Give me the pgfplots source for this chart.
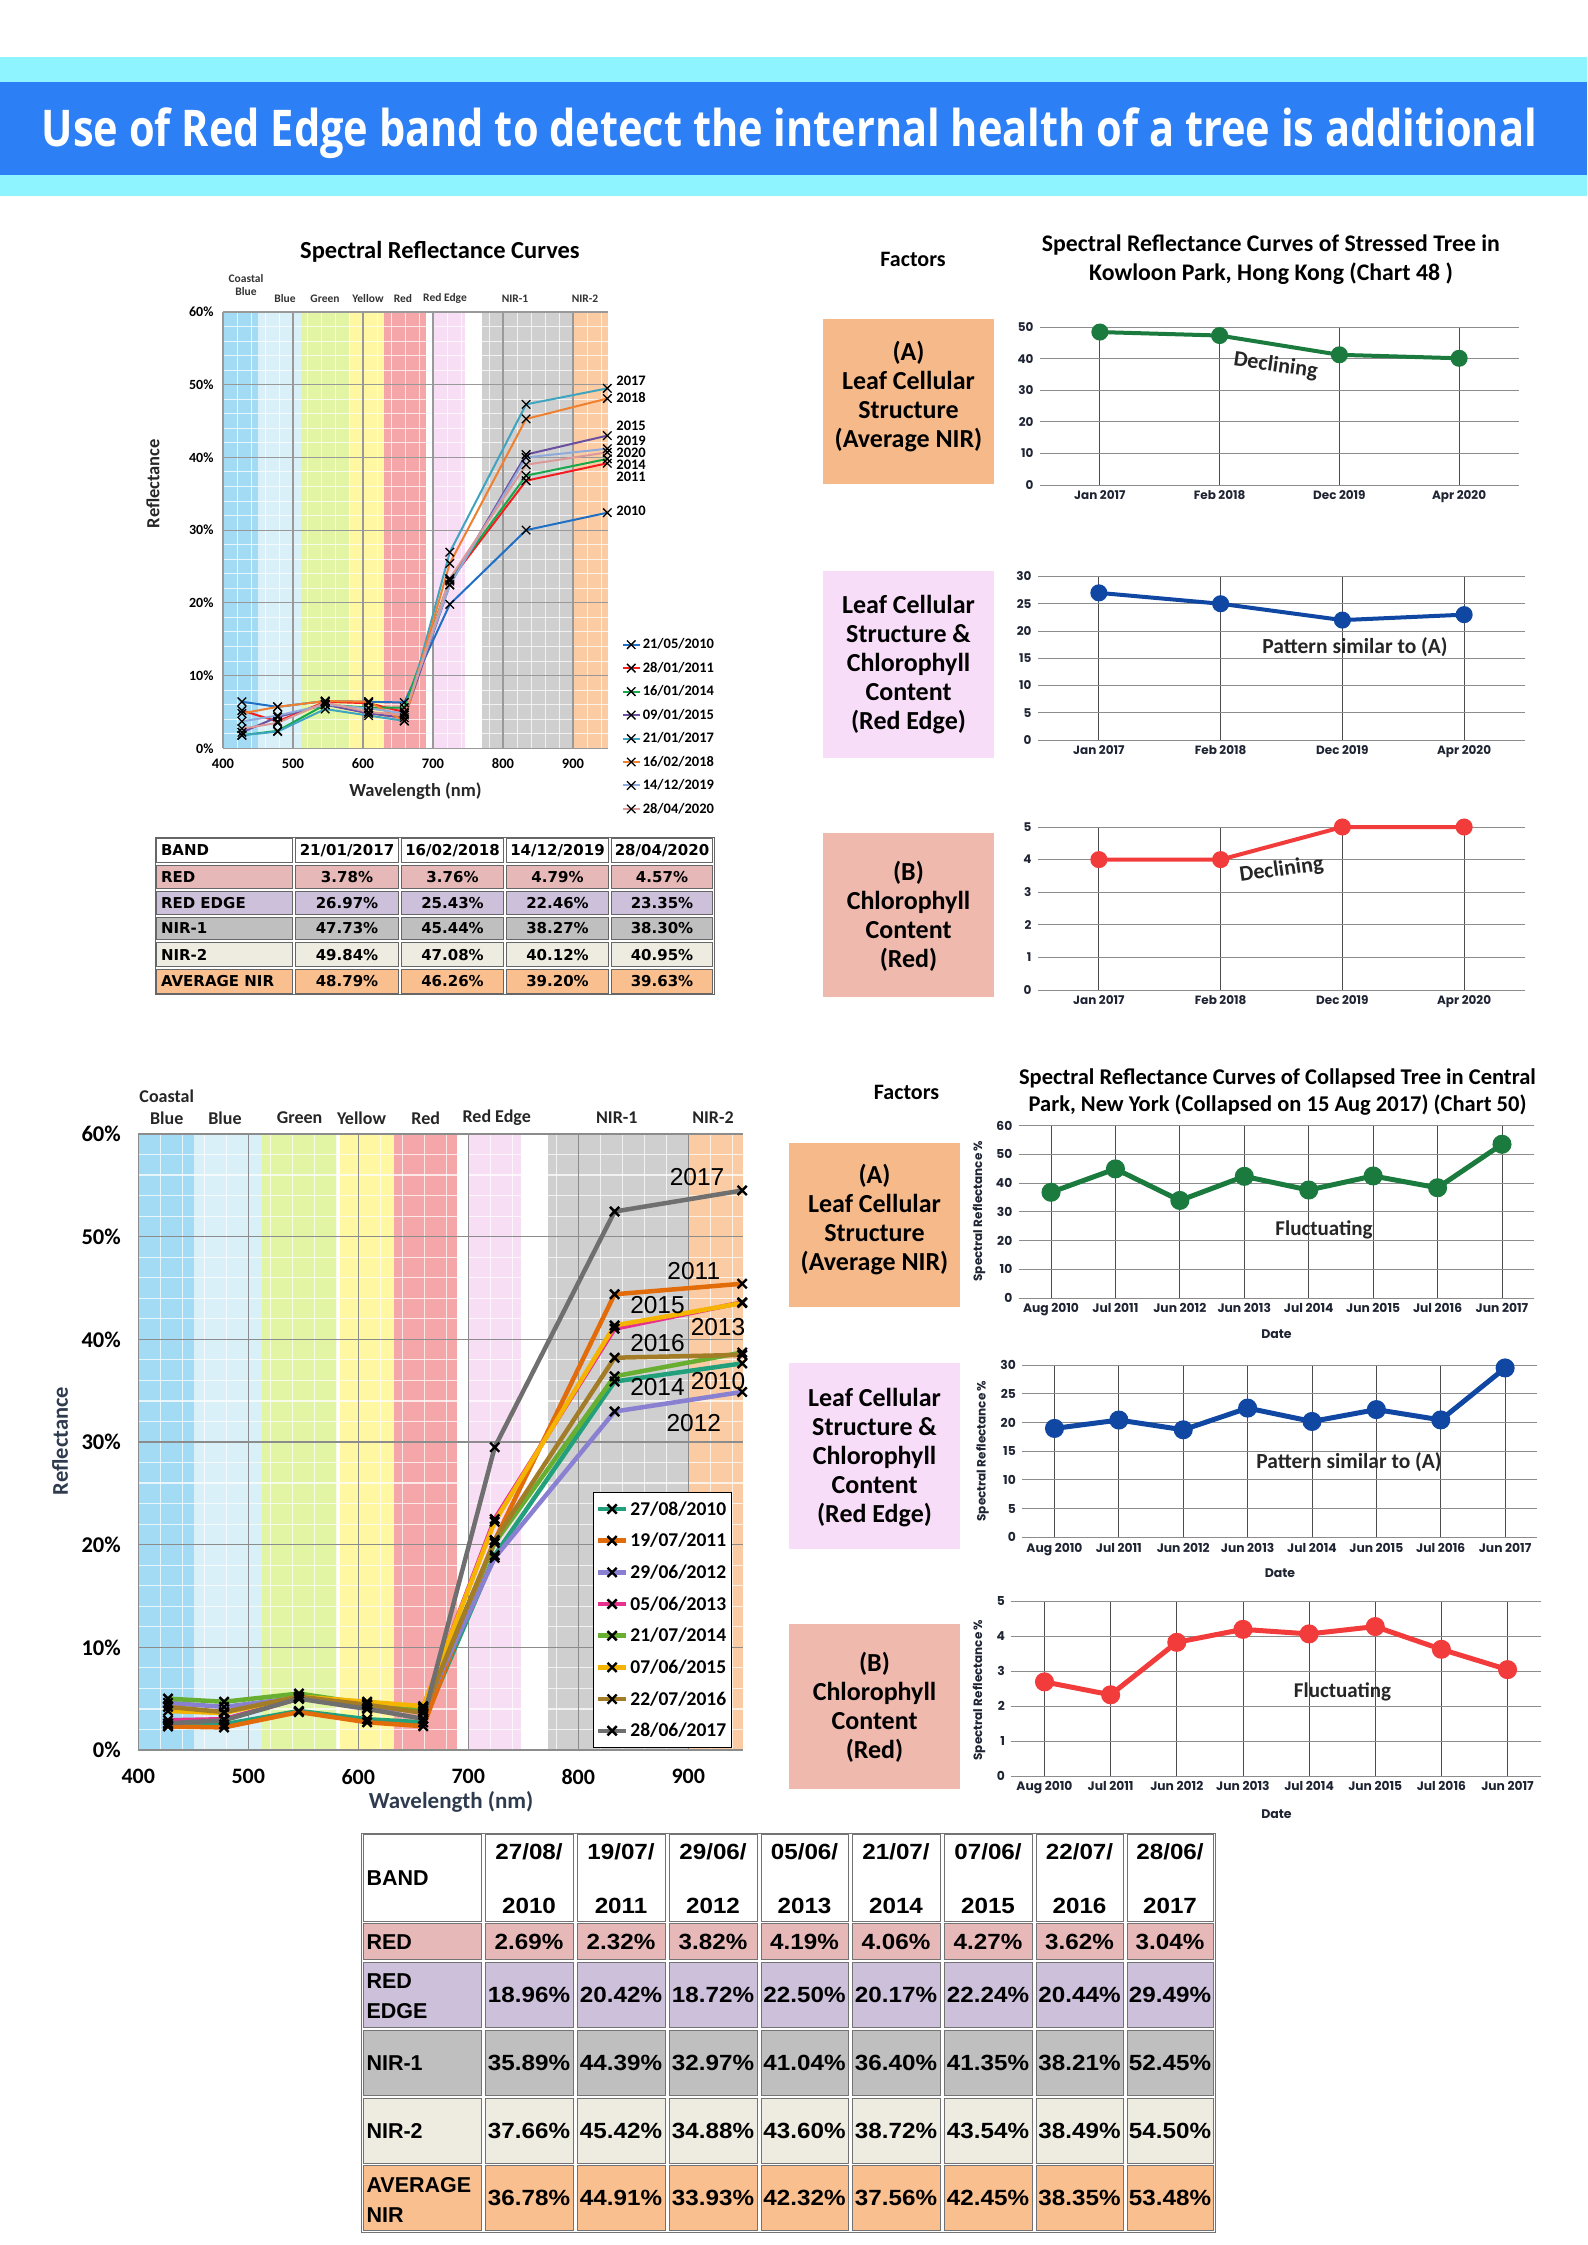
\documentclass[border=0pt]{standalone}
\usepackage{pgfplots}
\pgfplotsset{compat=1.18}
\usepackage{fontspec}
\usepackage{graphicx}
\setmainfont{Carlito}
\newfontfamily\bannerfont[FakeStretch=0.82]{Open Sans}
\newfontfamily\poppins{Poppins}
\newfontfamily\dejavu{DejaVu Sans}
\newfontfamily\arialw[FakeStretch=1.1]{Liberation Sans}
\newfontfamily\arial{Liberation Sans}
\newcommand{\fs}[2]{\fontsize{#1}{#2}\selectfont}

\definecolor{bannerCyan}{HTML}{8EF4FF}
\definecolor{bannerBlue}{HTML}{2C7FF5}
\definecolor{bCoastal}{HTML}{A3DAF4}
\definecolor{bBlue}{HTML}{DAF0F8}
\definecolor{bGreen}{HTML}{E2F5A4}
\definecolor{bYellow}{HTML}{FFF7A1}
\definecolor{bRed}{HTML}{F4A6A8}
\definecolor{bRE}{HTML}{F8DEF4}
\definecolor{bNIRa}{HTML}{CFCFCF}
\definecolor{bNIRb}{HTML}{FBCCA3}
\definecolor{tRed}{HTML}{E6B8B7}
\definecolor{tRE}{HTML}{CCC0DA}
\definecolor{tNa}{HTML}{BFBFBF}
\definecolor{tNb}{HTML}{EEECE1}
\definecolor{tAvg}{HTML}{FABF8F}
\definecolor{boxA}{HTML}{F6BA8A}
\definecolor{boxRE}{HTML}{F8DDF8}
\definecolor{boxR}{HTML}{EFB9AE}
\definecolor{gA}{HTML}{1B7A3D}
\definecolor{bREl}{HTML}{0F47A3}
\definecolor{rR}{HTML}{F23B3B}
\definecolor{cA}{HTML}{1F6FC4}
\definecolor{cB}{HTML}{F41C1C}
\definecolor{cC}{HTML}{16A94B}
\definecolor{cD}{HTML}{6B4FA0}
\definecolor{cE}{HTML}{3FA4C0}
\definecolor{cF}{HTML}{EE8030}
\definecolor{cG}{HTML}{8EABDC}
\definecolor{cH}{HTML}{DB9A98}
\definecolor{dA}{HTML}{22A07C}
\definecolor{dB}{HTML}{E26B0A}
\definecolor{dC}{HTML}{8A80D2}
\definecolor{dD}{HTML}{E8318F}
\definecolor{dE}{HTML}{68AE30}
\definecolor{dF}{HTML}{F4B400}
\definecolor{dG}{HTML}{A27C26}
\definecolor{dH}{HTML}{6F6F6F}
\definecolor{labc}{HTML}{2E3B4E}
\definecolor{tickc}{HTML}{1F2433}

\pgfplotsset{
  /pgf/number format/assume math mode=true,
  rc/.style={scale only axis, anchor=south west, ymin=0, clip=false,
    grid=major, major x grid style={black!70, line width=0.8pt},
    major y grid style={black!45, line width=0.9pt},
    axis line style={draw=none}, tick style={draw=none},
    ticklabel style={font=\poppins\bfseries\fs{12}{14}, text=tickc},
    xticklabel style={yshift=-2pt}, yticklabel style={xshift=-3pt}},
  tr/.style={rc, xmin=-0.5, xmax=3.5, xtick={0,1,2,3},
    xticklabels={Jan 2017, Feb 2018, Dec 2019, Apr 2020}},
  br/.style={rc, xmin=-0.5, xmax=7.5, xtick={0,...,7},
    xticklabels={Aug 2010, Jul 2011, Jun 2012, Jun 2013, Jul 2014, Jun 2015, Jul 2016, Jun 2017},
    ticklabel style={font=\poppins\bfseries\fs{12.3}{14}}},
}

\newcommand{\cb}[5]{\filldraw[fill=#5,draw=black!60,line width=0.9pt] ({#1+1.5},{-(#2)-1.5}) rectangle ({#3-1.5},{-(#4)+1.5});}
\newcommand{\cbb}[5]{\filldraw[fill=#5,draw=black!55,line width=1pt] ({#1+2},{-(#2)-1.2}) rectangle ({#3-2},{-(#4)+1.2});}

\begin{document}
\begin{tikzpicture}[x=1pt,y=1pt]
\useasboundingbox (0,0) rectangle (1587,-2245);
\fill[white] (0,0) rectangle (1587,-2245);

% ---------------- banner
\fill[bannerCyan] (0,-57) rectangle (1587,-196);
\fill[bannerBlue] (0,-82) rectangle (1587,-175);
\node[anchor=base, inner sep=0pt, text=white] at (789.5,-146.7)
  {\resizebox{1495pt}{!}{\bannerfont\bfseries Use of Red Edge band to detect the internal health of a tree is additional}};

% ---------------- top-left spectral chart
\node[font=\bfseries\fs{24.5}{29}] at (440,-252) {Spectral Reflectance Curves};
\begin{axis}[at={(223pt,-748.3pt)}, anchor=south west, scale only axis,
  width=385pt, height=436.3pt, xmin=400, xmax=950, ymin=0, ymax=60, clip=false,
  xtick={400,500,...,900}, ytick={0,10,...,60},
  yticklabel={\pgfmathprintnumber{\tick}\%},
  axis line style={draw=none}, tick style={draw=none},
  xticklabel style={font=\bfseries\fs{14.5}{17}, yshift=-7pt},
  yticklabel style={font=\bfseries\fs{14}{17}, xshift=-6pt},
  legend style={at={(1.035,0.256)}, anchor=north west, draw=none, fill=none,
     font=\bfseries\fs{14.5}{17}, row sep=7.8pt, inner xsep=0pt, inner ysep=0pt},
  legend cell align=left,
  every axis plot/.append style={line width=2pt, mark=x, mark size=6pt,
     mark options={black, line width=1.3pt, solid}},
]
\fill[bCoastal] (axis cs:400,0) rectangle (axis cs:450,60);
\fill[bBlue] (axis cs:450,0) rectangle (axis cs:511,60);
\fill[bGreen] (axis cs:511,0) rectangle (axis cs:580,60);
\fill[bYellow] (axis cs:580,0) rectangle (axis cs:630,60);
\fill[bRed] (axis cs:630,0) rectangle (axis cs:690,60);
\fill[bRE] (axis cs:700,0) rectangle (axis cs:746,60);
\fill[bNIRa] (axis cs:770,0) rectangle (axis cs:899,60);
\fill[bNIRb] (axis cs:899,0) rectangle (axis cs:950,60);
\pgfplotsinvokeforeach{420,440,...,940}{\draw[white, opacity=0.75, line width=1pt] (axis cs:#1,0) -- (axis cs:#1,60);}
\pgfplotsinvokeforeach{2,4,...,58}{\draw[white, opacity=0.75, line width=1pt] (axis cs:400,#1) -- (axis cs:950,#1);}
\pgfplotsinvokeforeach{400,500,...,900}{\draw[black!40, line width=1.2pt] (axis cs:#1,0) -- (axis cs:#1,60);}
\pgfplotsinvokeforeach{0,10,...,60}{\draw[black!40, line width=1.2pt] (axis cs:400,#1) -- (axis cs:950,#1);}

\addplot[color=cA] coordinates {(427,6.4) (478,5.7) (546,6.5) (608,6.4) (659,6.3) (724,19.8) (833,30.0) (949,32.4)};
\addlegendentry{21/05/2010}
\addplot[color=cB] coordinates {(427,5.2) (478,3.7) (546,6.4) (608,6.2) (659,5.0) (724,23.0) (833,36.8) (949,39.2)};
\addlegendentry{28/01/2011}
\addplot[color=cC] coordinates {(427,1.8) (478,2.4) (546,6.0) (608,5.6) (659,5.6) (724,23.2) (833,37.5) (949,39.8)};
\addlegendentry{16/01/2014}
\addplot[color=cD] coordinates {(427,2.2) (478,4.3) (546,6.0) (608,4.8) (659,4.2) (724,22.5) (833,40.4) (949,43.0)};
\addlegendentry{09/01/2015}
\addplot[color=cE] coordinates {(427,1.8) (478,2.3) (546,5.4) (608,4.5) (659,3.78) (724,26.97) (833,47.3) (949,49.5)};
\addlegendentry{21/01/2017}
\addplot[color=cF] coordinates {(427,4.8) (478,5.7) (546,6.5) (608,6.4) (659,3.76) (724,25.43) (833,45.3) (949,48.1)};
\addlegendentry{16/02/2018}
\addplot[color=cG] coordinates {(427,3.7) (478,4.5) (546,6.0) (608,5.5) (659,4.79) (724,22.46) (833,40.0) (949,41.2)};
\addlegendentry{14/12/2019}
\addplot[color=cH] coordinates {(427,2.7) (478,3.5) (546,6.3) (608,5.0) (659,4.57) (724,23.35) (833,39.0) (949,40.7)};
\addlegendentry{28/04/2020}

\node[anchor=west, font=\bfseries\fs{14.5}{17}] at (axis cs:957,50.6) {2017};
\node[anchor=west, font=\bfseries\fs{14.5}{17}] at (axis cs:957,48.3) {2018};
\node[anchor=west, font=\bfseries\fs{14.5}{17}] at (axis cs:957,44.3) {2015};
\node[anchor=west, font=\bfseries\fs{14.5}{17}] at (axis cs:957,42.3) {2019};
\node[anchor=west, font=\bfseries\fs{14.5}{17}] at (axis cs:957,40.6) {2020};
\node[anchor=west, font=\bfseries\fs{14.5}{17}] at (axis cs:957,39.0) {2014};
\node[anchor=west, font=\bfseries\fs{14.5}{17}] at (axis cs:957,37.4) {2011};
\node[anchor=west, font=\bfseries\fs{14.5}{17}] at (axis cs:957,32.6) {2010};
\end{axis}
\node[font=\bfseries\fs{18.5}{22}, text=black!85] at (415.5,-791.5) {Wavelength (nm)};
\node[font=\bfseries\fs{18.5}{22}, text=black!85, rotate=90] at (153,-483.6) {Reflectance};
\begin{scope}[every node/.style={font=\bfseries\fs{11.5}{13.5}, text=black!80}]
\node at (246,-278.3) {Coastal};
\node at (246,-291.8) {Blue};
\node at (285,-298.5) {Blue};
\node at (325,-298.5) {Green};
\node at (368,-298.5) {Yellow};
\node at (403,-298.5) {Red};
\node at (445,-298.5) {Red Edge};
\node at (515,-298.5) {NIR-1};
\node at (585,-298.5) {NIR-2};
\end{scope}

% ---------------- top-left table
\foreach \ya/\yb/\cc in {837/864/white, 864/889.6/tRed, 889.6/915.5/tRE, 915.5/941.4/tNa, 941.4/968/tNb, 968/994.6/tAvg}{
  \foreach \xa/\xb in {155/294, 294/400, 400/505, 505/610, 610/714}{\cb{\xa}{\ya}{\xb}{\yb}{\cc}}}
\draw[black!60, line width=1pt] (155,-837) rectangle (714,-994.6);
\begin{scope}[every node/.style={font=\dejavu\bfseries\fs{15}{18}}]
\node[anchor=west] at (157.5,-850.5) {BAND};
\foreach \x/\d/\m/\y in {347/21/01/2017, 452.5/16/02/2018, 557.5/14/12/2019, 662/28/04/2020}{\node at (\x,-850.5) {\d/\m/\y};}
\node[anchor=west] at (157.5,-876.8) {RED};
\foreach \x/\v in {347/3.78, 452.5/3.76, 557.5/4.79, 662/4.57}{\node at (\x,-876.8) {\v\%};}
\node[anchor=west] at (157.5,-902.6) {RED EDGE};
\foreach \x/\v in {347/26.97, 452.5/25.43, 557.5/22.46, 662/23.35}{\node at (\x,-902.6) {\v\%};}
\node[anchor=west] at (157.5,-928.5) {NIR-1};
\foreach \x/\v in {347/47.73, 452.5/45.44, 557.5/38.27, 662/38.30}{\node at (\x,-928.5) {\v\%};}
\node[anchor=west] at (157.5,-954.7) {NIR-2};
\foreach \x/\v in {347/49.84, 452.5/47.08, 557.5/40.12, 662/40.95}{\node at (\x,-954.7) {\v\%};}
\node[anchor=west] at (157.5,-981.3) {AVERAGE NIR};
\foreach \x/\v in {347/48.79, 452.5/46.26, 557.5/39.20, 662/39.63}{\node at (\x,-981.3) {\v\%};}
\end{scope}

% ---------------- top-right section
\node[font=\bfseries\fs{22}{26}] at (913,-259) {Factors};
\node[font=\bfseries\fs{23.8}{29.5}, align=center] at (1271,-259.5) {Spectral Reflectance Curves of Stressed Tree in\\Kowloon Park, Hong Kong (Chart 48 )};
\fill[boxA] (823,-319) rectangle (994,-483.5);
\node[font=\bfseries\fs{26}{29}, align=center] at (908.5,-396.5) {(A)\\Leaf Cellular\\Structure\\(Average NIR)};
\fill[boxRE] (823,-571) rectangle (994,-757.5);
\node[font=\bfseries\fs{26}{29}, align=center] at (908.5,-665) {Leaf Cellular\\Structure \&\\Chlorophyll\\Content\\(Red Edge)};
\fill[boxR] (823,-833) rectangle (994,-997);
\node[font=\bfseries\fs{26}{29}, align=center] at (908.5,-916) {(B)\\Chlorophyll\\Content\\(Red)};

\begin{axis}[tr, at={(1040pt,-485pt)}, width=479pt, height=158pt, ymax=50, ytick={0,10,...,50}]
\addplot[color=gA, line width=4pt, mark=*, mark size=6.5pt] coordinates {(0,48.4) (1,47.3) (2,41.2) (3,40.1)};
\end{axis}
\begin{axis}[tr, at={(1038pt,-740pt)}, width=487pt, height=163.5pt, ymax=30, ytick={0,5,...,30}]
\addplot[color=bREl, line width=4pt, mark=*, mark size=6.5pt] coordinates {(0,27) (1,25) (2,22) (3,23)};
\end{axis}
\begin{axis}[tr, at={(1038pt,-990pt)}, width=487pt, height=163pt, ymax=5, ytick={0,...,5}]
\addplot[color=rR, line width=4pt, mark=*, mark size=6.5pt] coordinates {(0,4) (1,4) (2,5) (3,5)};
\end{axis}
\node[font=\bfseries\fs{22}{26}, text=black!85, rotate=-8] at (1275.6,-366) {Declining};
\node[font=\bfseries\fs{21.5}{26}, text=black!85] at (1355,-647) {Pattern similar to (A)};
\node[font=\bfseries\fs{22}{26}, text=black!85, rotate=8] at (1281.5,-870) {Declining};

% ---------------- bottom-left spectral chart
\begin{axis}[at={(138.3pt,-1750pt)}, anchor=south west, scale only axis,
  width=605pt, height=616pt, xmin=400, xmax=950, ymin=0, ymax=60, clip=false,
  xtick={400,500,...,900}, ytick={0,10,...,60},
  yticklabel={\pgfmathprintnumber{\tick}\%},
  axis line style={draw=none}, tick style={draw=none},
  xticklabel style={font=\bfseries\fs{22}{26}, yshift=-16pt},
  yticklabel style={font=\bfseries\fs{22.5}{26}, xshift=-14pt},
  legend style={at={(0.751,0.004)}, anchor=south west, draw=black, fill=white,
     font=\bfseries\fs{19.5}{23}, row sep=12.5pt, inner xsep=3pt, inner ysep=7pt},
  legend cell align=left,
  legend image code/.code={\draw[mark repeat=2,mark phase=2,#1] plot coordinates {(0pt,0pt) (14pt,0pt) (28pt,0pt)};},
  every axis plot/.append style={line width=4.5pt, mark=x, mark size=6.5pt,
     mark options={black, line width=2.4pt, solid}},
]
\fill[bCoastal] (axis cs:400,0) rectangle (axis cs:451,60);
\fill[bBlue] (axis cs:451,0) rectangle (axis cs:512,60);
\fill[bGreen] (axis cs:512,0) rectangle (axis cs:581,60);
\fill[bYellow] (axis cs:583,0) rectangle (axis cs:632,60);
\fill[bRed] (axis cs:632,0) rectangle (axis cs:690,60);
\fill[bRE] (axis cs:701,0) rectangle (axis cs:748,60);
\fill[bNIRa] (axis cs:772,0) rectangle (axis cs:900,60);
\fill[bNIRb] (axis cs:900,0) rectangle (axis cs:950,60);
\pgfplotsinvokeforeach{420,440,...,940}{\draw[white, opacity=0.75, line width=1.2pt] (axis cs:#1,0) -- (axis cs:#1,60);}
\pgfplotsinvokeforeach{2,4,...,58}{\draw[white, opacity=0.75, line width=1.2pt] (axis cs:400,#1) -- (axis cs:950,#1);}
\pgfplotsinvokeforeach{400,500,...,900}{\draw[black!45, line width=1.4pt] (axis cs:#1,0) -- (axis cs:#1,60);}
\pgfplotsinvokeforeach{0,10,...,60}{\draw[black!45, line width=1.4pt] (axis cs:400,#1) -- (axis cs:950,#1);}

\addplot[color=dA] coordinates {(427,2.4) (478,2.5) (546,3.8) (608,3.0) (659,2.69) (724,18.96) (833,35.89) (949,37.66)};
\addlegendentry{27/08/2010}
\addplot[color=dB] coordinates {(427,2.3) (478,2.2) (546,3.7) (608,2.7) (659,2.32) (724,20.42) (833,44.39) (949,45.42)};
\addlegendentry{19/07/2011}
\addplot[color=dC] coordinates {(427,4.6) (478,4.2) (546,5.1) (608,4.1) (659,3.82) (724,18.72) (833,32.97) (949,34.88)};
\addlegendentry{29/06/2012}
\addplot[color=dD] coordinates {(427,2.9) (478,3.0) (546,5.0) (608,4.4) (659,4.19) (724,22.50) (833,41.04) (949,43.60)};
\addlegendentry{05/06/2013}
\addplot[color=dE] coordinates {(427,5.0) (478,4.7) (546,5.5) (608,4.5) (659,4.06) (724,20.17) (833,36.40) (949,38.72)};
\addlegendentry{21/07/2014}
\addplot[color=dF] coordinates {(427,3.8) (478,3.6) (546,5.2) (608,4.7) (659,4.27) (724,22.24) (833,41.35) (949,43.54)};
\addlegendentry{07/06/2015}
\addplot[color=dG] coordinates {(427,4.2) (478,3.7) (546,5.2) (608,4.4) (659,3.62) (724,20.44) (833,38.21) (949,38.49)};
\addlegendentry{22/07/2016}
\addplot[color=dH] coordinates {(427,2.6) (478,2.9) (546,5.0) (608,4.0) (659,3.04) (724,29.49) (833,52.45) (949,54.50)};
\addlegendentry{28/06/2017}

\node[font=\arial\fs{24.5}{28}] at (axis cs:908,55.8) {2017};
\node[font=\arial\fs{24.5}{28}] at (axis cs:905,46.7) {2011};
\node[font=\arial\fs{24.5}{28}] at (axis cs:872,43.3) {2015};
\node[font=\arial\fs{24.5}{28}] at (axis cs:927,41.2) {2013};
\node[font=\arial\fs{24.5}{28}] at (axis cs:872,39.6) {2016};
\node[font=\arial\fs{24.5}{28}] at (axis cs:872,35.4) {2014};
\node[font=\arial\fs{24.5}{28}] at (axis cs:927,35.9) {2010};
\node[font=\arial\fs{24.5}{28}] at (axis cs:905,31.8) {2012};
\end{axis}
\node[font=\bfseries\fs{23}{27}, text=labc] at (451,-1801.5) {Wavelength (nm)};
\node[font=\bfseries\fs{22.5}{27}, text=labc, rotate=90] at (60,-1441) {Reflectance};
\begin{scope}[every node/.style={font=\bfseries\fs{18}{21}, text=black!85}]
\node at (166.7,-1096.5) {Coastal};
\node at (166.7,-1118) {Blue};
\node at (225,-1118) {Blue};
\node at (299.6,-1118) {Green};
\node at (361.5,-1118) {Yellow};
\node at (425.7,-1118) {Red};
\node at (496.7,-1118) {Red Edge};
\node at (616.8,-1118) {NIR-1};
\node at (713,-1118) {NIR-2};
\end{scope}

% ---------------- bottom table
\foreach \ya/\yb/\cc in {1833/1922.5/white, 1922.5/1961/tRed, 1961/2029/tRE, 2029/2097/tNa, 2097/2164.5/tNb, 2164.5/2232/tAvg}{
  \foreach \xa/\xb in {361/483, 483/575, 575/667, 667/759, 759/850, 850/942, 942/1034, 1034/1125, 1125/1215}{\cbb{\xa}{\ya}{\xb}{\yb}{\cc}}}
\draw[black!55, line width=1pt] (361,-1833) rectangle (1215,-2232);
\begin{scope}[every node/.style={font=\arialw\bfseries\fs{22}{26}}]
\foreach \x/\d/\m/\y in {529/27/08/2010, 621/19/07/2011, 713/29/06/2012, 804.5/05/06/2013, 896/21/07/2014, 988/07/06/2015, 1079.5/22/07/2016, 1170/28/06/2017}{
  \node at (\x,-1852) {\d/\m/}; \node at (\x,-1906) {\y};}
\foreach \x/\v in {529/2.69, 621/2.32, 713/3.82, 804.5/4.19, 896/4.06, 988/4.27, 1079.5/3.62, 1170/3.04}{\node at (\x,-1941.8) {\v\%};}
\foreach \x/\v in {529/18.96, 621/20.42, 713/18.72, 804.5/22.50, 896/20.17, 988/22.24, 1079.5/20.44, 1170/29.49}{\node at (\x,-1995) {\v\%};}
\foreach \x/\v in {529/35.89, 621/44.39, 713/32.97, 804.5/41.04, 896/36.40, 988/41.35, 1079.5/38.21, 1170/52.45}{\node at (\x,-2063) {\v\%};}
\foreach \x/\v in {529/37.66, 621/45.42, 713/34.88, 804.5/43.60, 896/38.72, 988/43.54, 1079.5/38.49, 1170/54.50}{\node at (\x,-2130.8) {\v\%};}
\foreach \x/\v in {529/36.78, 621/44.91, 713/33.93, 804.5/42.32, 896/37.56, 988/42.45, 1079.5/38.35, 1170/53.48}{\node at (\x,-2198.3) {\v\%};}
\end{scope}
\begin{scope}[every node/.style={font=\arial\bfseries\fs{21.5}{26}, anchor=west}]
\node at (363,-1877.8) {BAND};
\node at (363,-1941.8) {RED};
\node at (363,-1981) {RED};
\node at (363,-2010.7) {EDGE};
\node at (363,-2063) {NIR-1};
\node at (363,-2130.8) {NIR-2};
\node at (363,-2185) {AVERAGE};
\node at (363,-2215) {NIR};
\end{scope}

% ---------------- bottom-right section
\node[font=\bfseries\fs{22}{26}] at (906.5,-1092) {Factors};
\node[font=\bfseries\fs{22.5}{27.5}, align=center] at (1277.5,-1092.2) {Spectral Reflectance Curves of Collapsed Tree in Central\\Park, New York (Collapsed on 15 Aug 2017) (Chart 50)};
\fill[boxA] (789,-1143) rectangle (960,-1307);
\node[font=\bfseries\fs{26}{29}, align=center] at (874.5,-1219.5) {(A)\\Leaf Cellular\\Structure\\(Average NIR)};
\fill[boxRE] (789,-1363.4) rectangle (960,-1549.4);
\node[font=\bfseries\fs{26}{29}, align=center] at (874.5,-1457.6) {Leaf Cellular\\Structure \&\\Chlorophyll\\Content\\(Red Edge)};
\fill[boxR] (789,-1624.3) rectangle (960,-1788.5);
\node[font=\bfseries\fs{26}{29}, align=center] at (874.5,-1707.4) {(B)\\Chlorophyll\\Content\\(Red)};

\begin{axis}[br, at={(1018.8pt,-1298pt)}, width=515.4pt, height=172.5pt, ymax=60, ytick={0,10,...,60}]
\addplot[color=gA, line width=5pt, mark=*, mark size=7pt] coordinates {(0,36.78) (1,44.91) (2,33.93) (3,42.32) (4,37.56) (5,42.45) (6,38.35) (7,53.48)};
\end{axis}
\begin{axis}[br, at={(1022.3pt,-1537.3pt)}, width=515pt, height=172.3pt, ymax=30, ytick={0,5,...,30}]
\addplot[color=bREl, line width=5pt, mark=*, mark size=7pt] coordinates {(0,18.96) (1,20.42) (2,18.72) (3,22.50) (4,20.17) (5,22.24) (6,20.44) (7,29.49)};
\end{axis}
\begin{axis}[br, at={(1011.4pt,-1776pt)}, width=529.2pt, height=175pt, ymax=5, ytick={0,...,5}]
\addplot[color=rR, line width=5pt, mark=*, mark size=7pt] coordinates {(0,2.69) (1,2.32) (2,3.82) (3,4.19) (4,4.06) (5,4.27) (6,3.62) (7,3.04)};
\end{axis}
\begin{scope}[every node/.style={font=\poppins\bfseries\fs{12}{14}, text=tickc}]
\node[rotate=90] at (979,-1211) {Spectral Reflectance \%};
\node[rotate=90] at (982.5,-1451) {Spectral Reflectance \%};
\node[rotate=90] at (979,-1690) {Spectral Reflectance \%};
\node[font=\poppins\bfseries\fs{12.5}{14}] at (1276.5,-1334) {Date};
\node[font=\poppins\bfseries\fs{12.5}{14}] at (1280,-1573) {Date};
\node[font=\poppins\bfseries\fs{12.5}{14}] at (1276.5,-1814) {Date};
\end{scope}
\node[font=\bfseries\fs{21}{25}, text=black!85] at (1324,-1230) {Fluctuating};
\node[font=\bfseries\fs{21.5}{25}, text=black!85] at (1349,-1462) {Pattern similar to (A)};
\node[font=\bfseries\fs{21}{25}, text=black!85] at (1342.5,-1691.4) {Fluctuating};
\end{tikzpicture}
\end{document}
